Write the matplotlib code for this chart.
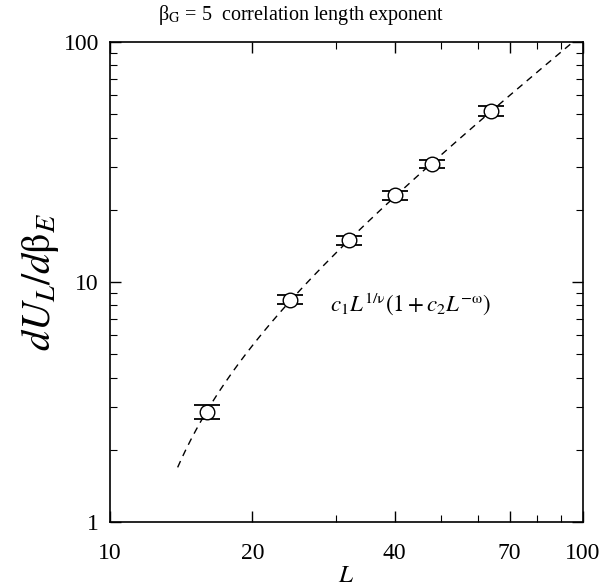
import numpy as np
import matplotlib
matplotlib.use("Agg")
import matplotlib.pyplot as plt

plt.rcParams['font.family'] = ['Liberation Serif', 'DejaVu Serif']
plt.rcParams['mathtext.fontset'] = 'stix'

# data
L_vals = [16, 24, 32, 40, 48, 64]
dU_vals = [2.88, 8.45, 14.9, 23.0, 31.0, 51.5]
dU_err = [0.2, 0.35, 0.7, 1.0, 1.25, 2.5]

# fit parameters: c1 L^(1/nu) (1 + c2 L^-omega)
c1 = 0.0703
inv_nu = 1.6
c2 = -43.4
omega = 1.6
fit_range = [13.9, 100]

x_ticks = [10, 20, 40, 70, 100]
y_ticks = [1, 10, 100]

fig = plt.figure(figsize=(6.02, 5.86), dpi=100)
ax = fig.add_axes([110/602, 64/586, 473/602, 480/586])

Lf = np.geomspace(fit_range[0], fit_range[1], 400)
ff = c1 * Lf**inv_nu * (1 + c2 * Lf**(-omega))
ax.plot(Lf, ff, color='black', lw=1.0, dashes=(5, 4), zorder=1)

ax.errorbar(L_vals, dU_vals, yerr=dU_err, fmt='none', ecolor='black',
            elinewidth=1.0, capsize=9.5, capthick=1.3, zorder=2)
ax.plot(L_vals, dU_vals, 'o', ms=10.5, mfc='white', mec='black', mew=1.0,
        zorder=3, linestyle='none')

ax.set_xscale('log')
ax.set_yscale('log')
ax.set_xlim(10, 100)
ax.set_ylim(1, 100)
ax.set_xticks(x_ticks)
ax.set_xticklabels([str(t) for t in x_ticks])
ax.set_yticks(y_ticks)
ax.set_yticklabels([str(t) for t in y_ticks])
ax.xaxis.set_minor_formatter(matplotlib.ticker.NullFormatter())
ax.yaxis.set_minor_formatter(matplotlib.ticker.NullFormatter())

ax.tick_params(which='both', direction='in', top=True, right=True,
               labelsize=17)
ax.tick_params(axis='x', which='both', pad=15)
ax.tick_params(axis='y', which='both', pad=8)
ax.tick_params(which='major', length=8, width=1)
ax.tick_params(which='minor', length=5, width=0.8)
for s in ax.spines.values():
    s.set_linewidth(1.2)

ax.set_xlabel(r'$L$', fontsize=18, labelpad=1)
ax.set_ylabel(r'$dU_L/d\mathrm{β}_E$', fontsize=29, labelpad=2)
fig.suptitle(r'β$_\mathrm{G}$ = 5  correlation length exponent', fontsize=14.5,
             x=0.5, y=0.995, va='top')

ax.text(0.465, 0.455, r'$c_1L^{1/\mathrm{ν}}(1 + c_2L^{-\mathrm{ω}})$',
        transform=ax.transAxes, fontsize=16.5, ha='left', va='center')

fig.savefig('out.png', dpi=100)
